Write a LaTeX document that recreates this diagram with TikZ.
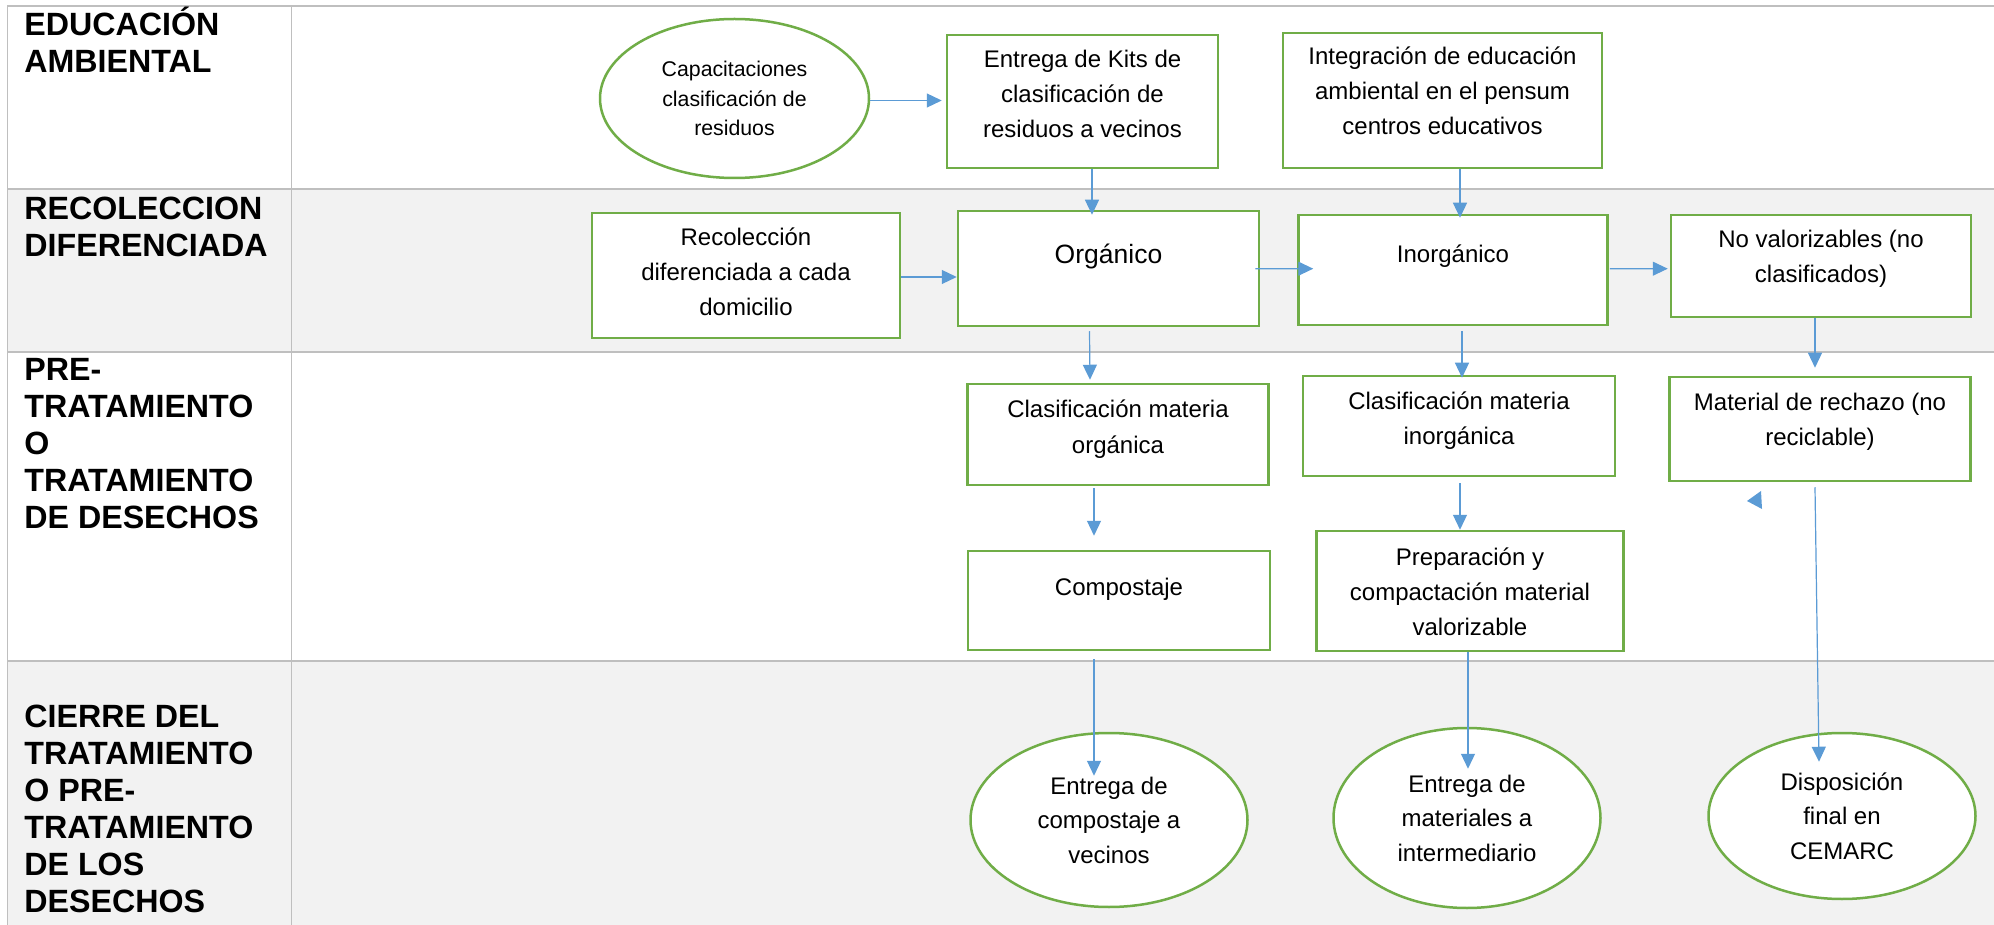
\documentclass[tikz,border=0pt]{standalone}
\usepackage{fontspec}
\setmainfont{Liberation Sans}
\usetikzlibrary{arrows.meta,shapes.geometric,calc}
\definecolor{boxgreen}{HTML}{70AD47}
\definecolor{flowblue}{HTML}{5B9BD5}
\definecolor{gridgray}{HTML}{BFBFBF}
\definecolor{bandgray}{HTML}{F2F2F2}
% box text: width, height, first-baseline offset, lines
\newcommand{\btext}[4]{\parbox[c][#2][t]{#1}{\centering\rule{0pt}{#3}#4}}
\newcommand{\lanetext}[1]{\parbox[t]{140pt}{\raggedright #1}}

\begin{document}
\begin{tikzpicture}[x=0.5pt,y=-0.5pt,
  stepbox/.style={draw=boxgreen, line width=1.25pt, fill=white, inner sep=0pt,
    font=\fontsize{12}{17.5}\selectfont},
  stepoval/.style={ellipse, draw=boxgreen, line width=1.25pt, fill=white, inner sep=0pt,
    align=center, font=\fontsize{12}{17.25}\selectfont},
  lane/.style={anchor=base west, inner sep=0pt,
    font=\bfseries\fontsize{16.1}{18.5}\selectfont},
  flow/.style={draw=flowblue, line width=0.6pt, -{Triangle[length=7.5pt,width=7pt]}},
  grid/.style={draw=gridgray, line width=0.65pt}
]
\useasboundingbox (0,0) rectangle (1994,925);

% swimlane table
\fill[white] (0,0) rectangle (1994,925);
\fill[bandgray] (7,189) rectangle (1994,352);
\fill[bandgray] (7,661) rectangle (1994,925);
\draw[grid] (7,6) -- (1994,6);
\draw[grid] (7,189) -- (1994,189);
\draw[grid] (7,352) -- (1994,352);
\draw[grid] (7,661) -- (1994,661);
\draw[grid, line width=0.5pt] (7,6) -- (7,925);
\draw[grid, line width=0.5pt] (291,6) -- (291,925);

% lane titles
\node[lane] (lane1) at (24,36) {\lanetext{EDUCACIÓN\\AMBIENTAL}};
\node[lane] (lane2) at (24,220) {\lanetext{RECOLECCION\\DIFERENCIADA}};
\node[lane] (lane3) at (24,381) {\lanetext{PRE-\\TRATAMIENTO\\O\\TRATAMIENTO\\DE DESECHOS}};
\node[lane] (lane4) at (24,727) {\lanetext{CIERRE DEL\\TRATAMIENTO\\O PRE-\\TRATAMIENTO\\DE LOS\\DESECHOS}};

% environmental education
\node[stepoval, minimum width=134.5pt, minimum height=79.5pt,
  font=\fontsize{10.65}{14.75}\selectfont] (cap) at (734.5,98.5)
  {Capacitaciones\\clasificación de\\residuos};
\node[stepbox] (kits) at (1082.5,101.5)
  {\btext{135.5pt}{66.5pt}{16.5pt}{Entrega de Kits de\\clasificación de\\residuos a vecinos}};
\node[stepbox] (integ) at (1442.5,100.5)
  {\btext{159.5pt}{67.5pt}{16pt}{Integración de educación\\ambiental en el pensum\\centros educativos}};

% separate collection
\node[stepbox] (recol) at (746,275.5)
  {\btext{154pt}{62.5pt}{16.5pt}{Recolección\\diferenciada a cada\\domicilio}};
\node[stepbox, font=\fontsize{13.25}{17.5}\selectfont] (org) at (1108.5,268.5)
  {\btext{150.5pt}{57.5pt}{26.5pt}{Orgánico}};
\node[stepbox] (inorg) at (1453,270)
  {\btext{154.5pt}{55pt}{24pt}{Inorgánico}};
\node[stepbox] (novalor) at (1821,266)
  {\btext{150pt}{51pt}{16.5pt}{No valorizables (no\\clasificados)}};

% pre-treatment / treatment
\node[stepbox] (clasorg) at (1118,434.5)
  {\btext{150.5pt}{50.5pt}{17pt}{Clasificación materia\\orgánica}};
\node[stepbox] (clasinorg) at (1459,426)
  {\btext{156pt}{50pt}{16.5pt}{Clasificación materia\\inorgánica}};
\node[stepbox] (rechazo) at (1820,429)
  {\btext{150.5pt}{52pt}{17pt}{Material de rechazo (no\\reciclable)}};
\node[stepbox] (compost) at (1119,600.5)
  {\btext{151pt}{49.5pt}{22pt}{Compostaje}};
\node[stepbox] (prep) at (1470,591)
  {\btext{153.5pt}{60pt}{17pt}{Preparación y\\compactación material\\valorizable}};

% closing of the treatment
\node[stepoval, minimum width=138.5pt, minimum height=87pt] (ent1) at (1109,820)
  {Entrega de\\compostaje a\\vecinos};
\node[stepoval, minimum width=133.5pt, minimum height=90pt] (ent2) at (1467,818)
  {Entrega de\\materiales a\\intermediario};
\node[stepoval, minimum width=133.5pt, minimum height=83pt] (disp) at (1842,816)
  {Disposición\\final en\\CEMARC};

% connectors
\draw[flow] ($(cap.east)+(0,2)$) -- ($(kits.west)+(-4,-1)$);
\draw[flow] ($(kits.south)+(9.5,0)$) -- ($(org.north)+(-16.5,5)$);
\draw[flow] ($(integ.south)+(17.5,0)$) -- ($(inorg.north)+(7,4)$);
\draw[flow] ($(recol.east)+(0,1.5)$) -- ($(org.west)+(0,8.5)$);
\draw[flow] ($(org.east)+(-5,0.2)$) -- ($(inorg.west)+(16,-1.3)$);
\draw[flow] ($(inorg.east)+(1,-1.3)$) -- ($(novalor.west)+(-2,2.7)$);
\draw[flow] ($(novalor.south)+(-6,0)$) -- ($(rechazo.north)+(-5,-8)$);
\draw[flow] ($(org.south)+(-19,4)$) -- ($(clasorg.north)+(-28,-3)$);
\draw[flow] ($(inorg.south)+(9,5)$) -- ($(clasinorg.north)+(3,3)$);
\draw[flow] ($(clasorg.south)+(-24,2)$) -- ($(compost.north)+(-25,-14)$);
\draw[flow] ($(clasinorg.south)+(1,6)$) -- ($(prep.north)+(-10,0)$);
\draw[flow] ($(rechazo.south)+(-5,5)$) -- ($(disp.north)+(-23,30)$);
\draw[flow] ($(compost.south)+(-25,8)$) -- ($(ent1.north)+(-15,44)$);
\draw[flow] ($(prep.south)+(-2,0)$) -- ($(ent2.north)+(1,42)$);

% loose arrow tip below the reject box
\fill[flowblue] (1747,501) -- (1761,491) -- (1762,509) -- cycle;
\end{tikzpicture}
\end{document}
